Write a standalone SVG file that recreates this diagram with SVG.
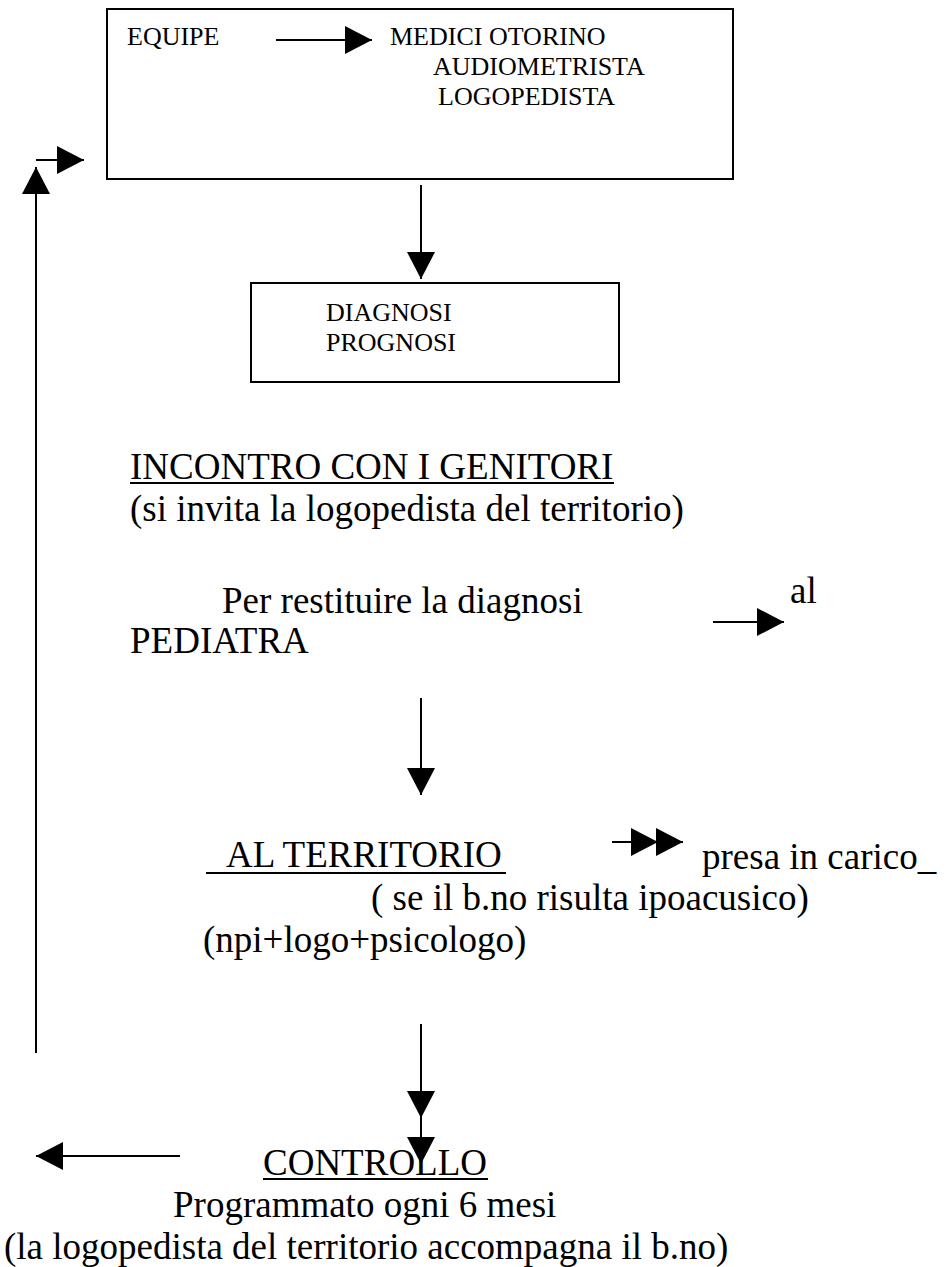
<svg xmlns="http://www.w3.org/2000/svg" width="947" height="1267" viewBox="0 0 947 1267">
<style>
.t{font-family:"Liberation Serif","Times New Roman",serif;fill:#000}
.s{font-size:26px}
.l{font-size:37px}
.box{fill:none;stroke:#000;stroke-width:2}
.c{fill:none;stroke:#000;stroke-width:2}
.u{stroke:#000;stroke-width:2}
</style>
<defs>
<marker id="ah" viewBox="0 0 27 28" refX="27" refY="14" markerWidth="27" markerHeight="28" markerUnits="userSpaceOnUse" orient="auto">
<path d="M0,0 L27,14 L0,28 Z" fill="#000"/>
</marker>
</defs>
<rect width="947" height="1267" fill="#fff"/>
<g id="equipe">
<rect class="box" x="107" y="9" width="626" height="170"/>
<text class="t s" x="127" y="45">EQUIPE</text>
<text class="t s" x="390" y="45">MEDICI OTORINO</text>
<text class="t s" x="433" y="75">AUDIOMETRISTA</text>
<text class="t s" x="438" y="105">LOGOPEDISTA</text>
</g>
<g id="diagnosi">
<rect class="box" x="251" y="283" width="368" height="99"/>
<text class="t s" x="326" y="321">DIAGNOSI</text>
<text class="t s" x="326" y="351">PROGNOSI</text>
</g>
<g id="incontro">
<text class="t l" x="130" y="479">INCONTRO CON I GENITORI</text>
<line class="u" x1="130" y1="483" x2="614" y2="483"/>
<text class="t l" x="130" y="521">(si invita la logopedista del territorio)</text>
</g>
<g id="pediatra">
<text class="t l" x="222" y="613">Per restituire la diagnosi</text>
<text class="t l" x="790" y="603">al</text>
<text class="t l" x="130" y="653">PEDIATRA</text>
</g>
<g id="territorio">
<text class="t l" x="226" y="867">AL TERRITORIO</text>
<line class="u" x1="206" y1="873" x2="506" y2="873"/>
<text class="t l" x="702" y="869">presa in carico_</text>
<text class="t l" x="371" y="910">( se il b.no risulta ipoacusico)</text>
<text class="t l" x="203" y="952">(npi+logo+psicologo)</text>
</g>
<g id="controllo">
<text class="t l" x="263" y="1175">CONTROLLO</text>
<line class="u" x1="263" y1="1179" x2="488" y2="1179"/>
<text class="t l" x="173" y="1217">Programmato ogni 6 mesi</text>
<text class="t l" x="4" y="1259">(la logopedista del territorio accompagna il b.no)</text>
</g>
<g id="connectors">
<line class="c" x1="276" y1="40" x2="372" y2="40" marker-end="url(#ah)"/>
<line class="c" x1="36" y1="160" x2="84" y2="160" marker-end="url(#ah)"/>
<line class="c" x1="36" y1="1053" x2="36" y2="167" marker-end="url(#ah)"/>
<line class="c" x1="421" y1="185" x2="421" y2="279" marker-end="url(#ah)"/>
<line class="c" x1="713" y1="622" x2="784" y2="622" marker-end="url(#ah)"/>
<line class="c" x1="421" y1="698" x2="421" y2="795" marker-end="url(#ah)"/>
<polyline class="c" points="612,842 658,842 683,842" marker-mid="url(#ah)" marker-end="url(#ah)"/>
<polyline class="c" points="421,1024 421,1118 421,1164" marker-mid="url(#ah)" marker-end="url(#ah)"/>
<line class="c" x1="180" y1="1156" x2="36" y2="1156" marker-end="url(#ah)"/>
</g>
</svg>
